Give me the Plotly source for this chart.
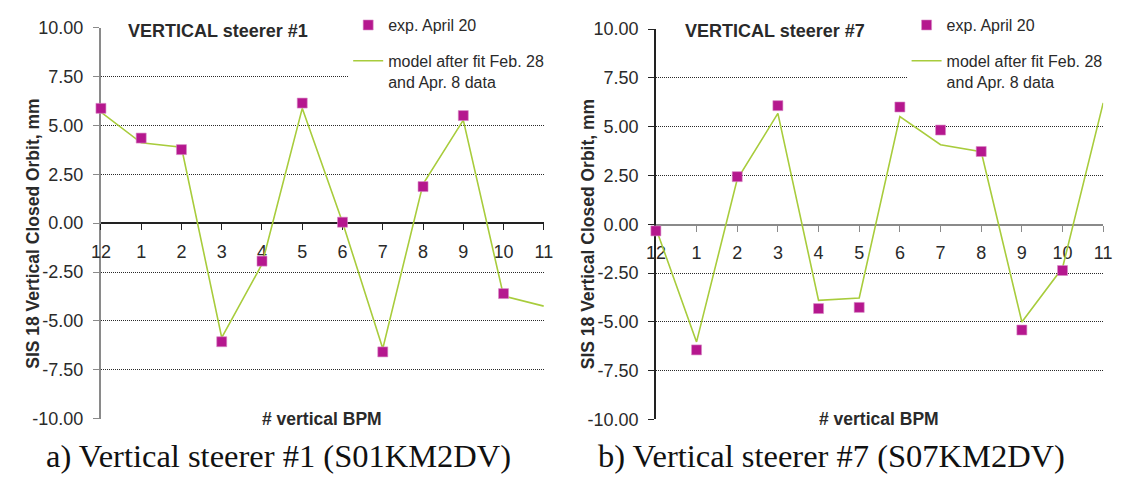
import plotly.graph_objects as go

W, H = 1124, 477

# ---------------- data ----------------
categories = ["12", "1", "2", "3", "4", "5", "6", "7", "8", "9", "10", "11"]

left_exp = [5.87, 4.35, 3.76, -6.06, -1.94, 6.14, 0.05, -6.58, 1.87, 5.50, -3.60, None]
left_model = [5.68, 4.11, 3.88, -5.85, -2.10, 5.87, 0.05, -6.41, 2.00, 5.27, -3.72, -4.24]

right_exp = [-0.34, -6.44, 2.44, 6.08, -4.32, -4.26, 6.01, 4.83, 3.73, -5.42, -2.37, None]
right_model = [-0.20, -6.03, 2.30, 5.68, -3.90, -3.78, 5.52, 4.08, 3.72, -5.01, -2.23, 6.22]

y_ticks = [-10, -7.5, -5, -2.5, 0, 2.5, 5, 7.5, 10]

exp_name = "exp. April 20"
model_name = "model after fit Feb. 28<br>and Apr. 8 data"
titles = ["VERTICAL steerer #1", "VERTICAL steerer #7"]
captions = ["a) Vertical steerer #1 (S01KM2DV)", "b) Vertical steerer #7 (S07KM2DV)"]
y_title = "SIS 18 Vertical Closed Orbit, mm"
x_title = "# vertical BPM"

MAG = "#B5178E"
GRN = "#A8CC3C"
TXT = "#2a2a2a"


def px_x(p):
    return p / W


def px_y(p):
    return 1 - p / H


fig = go.Figure()

panels = [
    dict(ax="x", ay="y", exp=left_exp, model=left_model, legend="legend", tag="1"),
    dict(ax="x2", ay="y2", exp=right_exp, model=right_model, legend="legend2", tag="2"),
]
for p in panels:
    fig.add_trace(go.Scatter(
        x=categories, y=p["model"], mode="lines", name=model_name,
        line=dict(color=GRN, width=1.6), xaxis=p["ax"], yaxis=p["ay"],
        legend=p["legend"], legendrank=2, legendgroup="model" + p["tag"],
        cliponaxis=False,
    ))
    fig.add_trace(go.Scatter(
        x=categories, y=p["exp"], mode="markers", name=exp_name,
        marker=dict(symbol="square", size=10, color=MAG,
                    line=dict(color="#d98cc6", width=0.6)),
        xaxis=p["ax"], yaxis=p["ay"], legend=p["legend"], legendrank=1,
        legendgroup="exp" + p["tag"], cliponaxis=False,
    ))

# panel geometry (pixels)
geo = [
    dict(x0=92.5, x1=543, ytop=18.3, ybot=426.7, y0line=222.6,
         ylinecol="#8a8a8a", ylinew=2, xlinecol="#222", xlinew=1.5),
    dict(x0=657, x1=1112, ytop=20, ybot=427.3, y0line=224,
         ylinecol="#222", ylinew=1.5, xlinecol="#8a8a8a", xlinew=2),
]

for i, g in enumerate(geo):
    sfx = "" if i == 0 else "2"
    xa = dict(
        type="category", categoryorder="array", categoryarray=categories,
        range=[0, len(categories) - 1],
        domain=[px_x(g["x0"]), px_x(g["x1"])],
        anchor="free", position=px_y(g["y0line"]),
        showline=True, linecolor=g["xlinecol"], linewidth=g["xlinew"],
        ticks="outside", ticklen=6, tickcolor=g["xlinecol"], tickwidth=1,
        tickfont=dict(family="Liberation Sans, Arial", size=18, color=TXT),
        ticklabelstandoff=6,
        showgrid=False, zeroline=False, layer="below traces",
    )
    ya = dict(
        range=[-10, 10], domain=[px_y(g["ybot"]), px_y(g["ytop"])],
        anchor="x" + sfx,
        tickmode="array", tickvals=y_ticks,
        ticktext=["%.2f" % v for v in y_ticks],
        showline=True, linecolor=g["ylinecol"], linewidth=g["ylinew"],
        ticks="outside", ticklen=6, tickcolor=g["ylinecol"], tickwidth=1,
        tickfont=dict(family="Liberation Sans, Arial", size=18, color=TXT),
        ticklabelstandoff=6,
        showgrid=True, gridcolor="#2a2a2a", gridwidth=1, griddash="1px,1px",
        zeroline=False, layer="below traces",
    )
    fig.update_layout(**{"xaxis" + sfx: xa, "yaxis" + sfx: ya})

legend_common = dict(
    bgcolor="white", borderwidth=0,
    font=dict(family="Liberation Sans, Arial", size=16, color=TXT),
    yanchor="top", y=1.0 + 2 / H, xanchor="left", valign="top",
    tracegroupgap=12, traceorder="grouped",
)
fig.update_layout(
    legend=dict(x=px_x(344), **legend_common),
    legend2=dict(x=px_x(912), **legend_common),
)

ann = []
title_x = [118.5, 684.7]
ytitle_x = [24, 588]
xtitle_x = [317.7, 883.6]
caption_x = [273, 836]
for i in range(2):
    ann.append(dict(text="<b>%s</b>" % titles[i], x=px_x(title_x[i]), y=px_y(21.7),
                    xref="paper", yref="paper", xanchor="left", yanchor="middle",
                    showarrow=False,
                    font=dict(family="Liberation Sans, Arial", size=18, color=TXT)))
    ann.append(dict(text="<b>%s</b>" % y_title, x=px_x(ytitle_x[i]), y=px_y(234),
                    xref="paper", yref="paper", xanchor="center", yanchor="middle",
                    textangle=-90, showarrow=False,
                    font=dict(family="Liberation Sans, Arial", size=17.5, color=TXT)))
    ann.append(dict(text="<b>%s</b>" % x_title, x=px_x(xtitle_x[i]), y=px_y(426.7),
                    xref="paper", yref="paper", xanchor="center", yanchor="middle",
                    showarrow=False,
                    font=dict(family="Liberation Sans, Arial", size=17.5, color=TXT)))
    ann.append(dict(text=captions[i], x=px_x(caption_x[i]), y=px_y(465),
                    xref="paper", yref="paper", xanchor="center", yanchor="middle",
                    showarrow=False,
                    font=dict(family="Liberation Serif, Times New Roman, serif",
                              size=32.5, color="#111")))

fig.update_layout(
    width=W, height=H, margin=dict(l=0, r=0, t=0, b=0),
    paper_bgcolor="white", plot_bgcolor="white",
    showlegend=True, annotations=ann,
)

fig.write_html("out.html")
